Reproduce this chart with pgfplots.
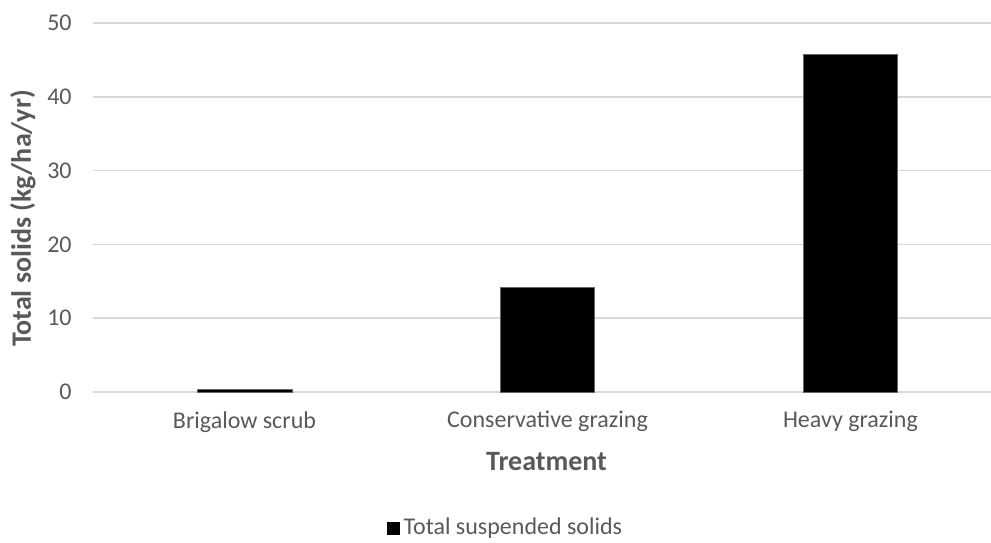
\documentclass[border=0pt]{standalone}
\usepackage{fontspec}
\setmainfont{Carlito}
\usepackage{pgfplots}
\pgfplotsset{compat=1.18}
\definecolor{txt}{HTML}{595959}
\definecolor{gridc}{HTML}{D9D9D9}

\begin{document}
\begin{tikzpicture}
\useasboundingbox (0,0) rectangle (495.5pt,271pt);
\begin{axis}[
  at={(46.5pt,75pt)}, anchor=south west,
  scale only axis, width=449pt, height=184.5pt,
  ymin=0, ymax=50, ytick={0,10,...,50},
  xmin=-0.5, xmax=2.464,
  xtick={0,1,2},
  xticklabels={Brigalow scrub, Conservative grazing, Heavy grazing},
  axis x line*=bottom, axis y line*=left,
  axis line style={draw=none},
  major tick length=0pt,
  ymajorgrids, grid style={draw=gridc, line width=0.8pt},
  tick label style={font=\fontsize{12}{14}\selectfont, text=txt},
  yticklabel style={inner sep=0pt, anchor=east, xshift=-10.5pt},
  xticklabel style={inner sep=0pt, anchor=north, yshift=-9.5pt},
  /pgf/number format/assume math mode=true,
  xlabel={Treatment},
  xlabel style={at={(axis description cs:0.505,0)}, anchor=center, yshift=-35pt,
    font=\fontsize{14}{16}\selectfont\bfseries, text=txt},
  ylabel={Total solids (kg/ha/yr)},
  ylabel style={at={(axis description cs:-0.078,0.47)}, anchor=center,
    font=\fontsize{14}{16}\selectfont\bfseries, text=txt},
  legend style={at={(0.4605,-0.369)}, anchor=center, draw=none, fill=none,
    font=\fontsize{12}{14}\selectfont, text=txt,
    /tikz/every even column/.append style={column sep=2pt}},
  legend image code/.code={\fill[black] (-2.5pt,-3pt) rectangle (3.5pt,3pt);},
]
\addplot[ybar, bar width=0.313, fill=black, draw=black!60, line width=0.4pt]
  coordinates {(0,0.4) (1,14.2) (2,45.8)};
\addlegendentry{Total suspended solids}
\end{axis}
\end{tikzpicture}
\end{document}
